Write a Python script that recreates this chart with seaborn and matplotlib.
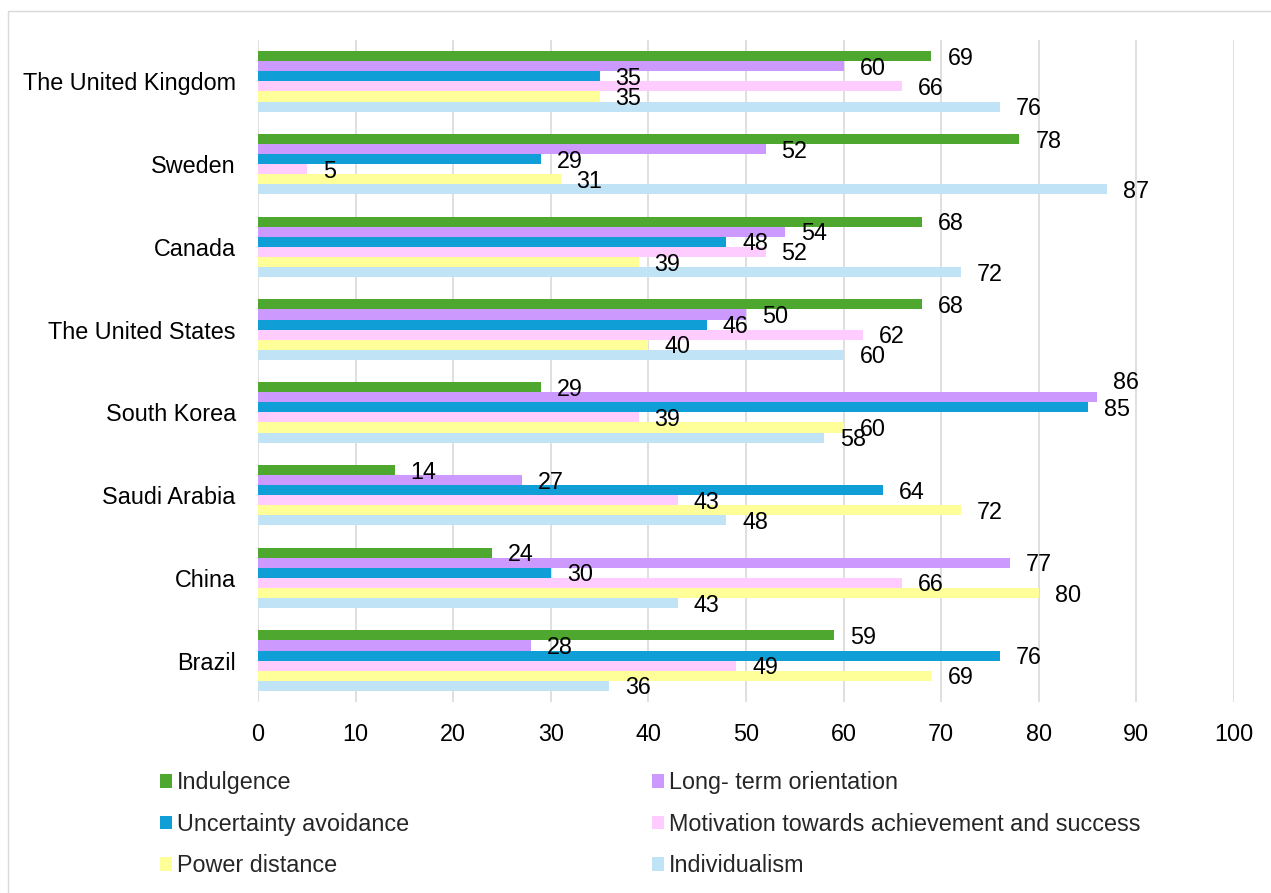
import numpy as np
import pandas as pd
import matplotlib
matplotlib.use("Agg")
import matplotlib.pyplot as plt
from matplotlib.patches import Patch, Rectangle
import seaborn as sns

countries = ["The United Kingdom", "Sweden", "Canada", "The United States",
             "South Korea", "Saudi Arabia", "China", "Brazil"]
indulgence = [69, 78, 68, 68, 29, 14, 24, 59]
long_term = [60, 52, 54, 50, 86, 27, 77, 28]
uncertainty = [35, 29, 48, 46, 85, 64, 30, 76]
motivation = [66, 5, 52, 62, 39, 43, 66, 49]
power_distance = [35, 31, 39, 40, 60, 72, 80, 69]
individualism = [76, 87, 72, 60, 58, 48, 43, 36]

series_names = ["Indulgence", "Long- term orientation", "Uncertainty avoidance",
                "Motivation towards achievement and success", "Power distance",
                "Individualism"]
series_values = [indulgence, long_term, uncertainty, motivation, power_distance,
                 individualism]
colors = ["#4EA72E", "#CC99FF", "#0F9ED5", "#FFCCFF", "#FFFF99", "#C0E4F5"]
xticks = [0, 10, 20, 30, 40, 50, 60, 70, 80, 90, 100]

rows = []
for name, vals in zip(series_names, series_values):
    for c, v in zip(countries, vals):
        rows.append({"Country": c, "Dimension": name, "Value": v})
df = pd.DataFrame(rows)

sns.set_theme(style="white")
plt.rcParams['font.family'] = ['Liberation Sans', 'DejaVu Sans']
FS = 16.8

fig = plt.figure(figsize=(12.71, 8.93), dpi=100)
ax = fig.add_axes([258/1271, 1-702/893, (1234-258)/1271, (702-40)/893])

sns.barplot(data=df, y="Country", x="Value", hue="Dimension", order=countries,
            hue_order=series_names, palette=colors, orient="h", width=0.73,
            saturation=1, linewidth=0, ax=ax, legend=False, zorder=3)

PAD = 11.5
for si, cont in enumerate(ax.containers):
    anns = ax.bar_label(cont, fmt="%d", padding=PAD, fontsize=FS, color="#000000")
    for ci, ann in enumerate(anns):
        dy = -1.5
        # the label that would collide with the next one is lifted, as in the source
        if series_names[si] == "Long- term orientation" and countries[ci] == "South Korea":
            dy = 10.5
        ann.xyann = (PAD, dy)

ax.set_xlim(0, 100)
ax.set_ylim(7.5, -0.5)
ax.set_xticks(xticks)
ax.set_xticklabels([str(t) for t in xticks], fontsize=FS, color="#000000")
ax.tick_params(axis="x", length=0, pad=15)
ax.tick_params(axis="y", length=0, pad=16, labelsize=FS, labelcolor="#000000")
ax.set_xlabel("")
ax.set_ylabel("")
ax.grid(axis="x", color="#D9D9D9", linewidth=1.2, zorder=0)
ax.grid(axis="y", visible=False)
ax.set_axisbelow(True)
for s in ax.spines.values():
    s.set_visible(False)

# legend (two columns, row-wise order)
handles = [Patch(facecolor=c, edgecolor="none") for c in colors]
left_idx = [0, 2, 4]
right_idx = [1, 3, 5]
common = dict(frameon=False, fontsize=FS, handlelength=0.52, handleheight=0.52,
              handletextpad=0.2, labelspacing=0.80, borderpad=0, borderaxespad=0,
              loc="upper left")
leg1 = fig.legend([handles[i] for i in left_idx], [series_names[i] for i in left_idx],
                  bbox_to_anchor=(160/1271, 1-771/893), **common)
leg2 = fig.legend([handles[i] for i in right_idx], [series_names[i] for i in right_idx],
                  bbox_to_anchor=(652/1271, 1-771/893), **common)

fig.patches.append(Rectangle((8/1271, -0.05), 1.2, 1.05-11/893, transform=fig.transFigure,
                             fill=False, edgecolor="#D9D9D9", linewidth=1.0))

fig.savefig("out.png", dpi=100)
